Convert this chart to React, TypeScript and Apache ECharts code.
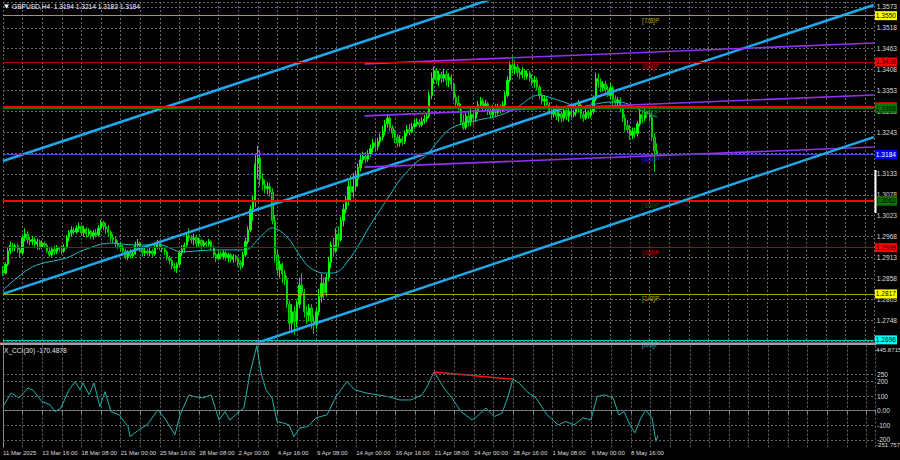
import React, { useEffect, useRef } from "react";
import * as echarts from "echarts";

// ---------- data ----------
const symbolName = "GBPUSD,H4";
const cciName = "X_CCI(30)";

// H4 candles [open, close, low, high], bar 0 = 11 Mar 2025 00:00
const candles: number[][] = [
  // 11 Mar
  [1.2878, 1.2872, 1.2865, 1.289], [1.2872, 1.2895, 1.2868, 1.29], [1.2895, 1.293, 1.289, 1.294], [1.293, 1.2945, 1.2922, 1.2955], [1.2945, 1.2938, 1.2928, 1.2952], [1.2938, 1.2944, 1.293, 1.295],
  // 12 Mar
  [1.2944, 1.2935, 1.2925, 1.295], [1.2935, 1.2925, 1.2914, 1.294], [1.2925, 1.2965, 1.292, 1.2972], [1.2965, 1.2975, 1.2955, 1.299], [1.2975, 1.296, 1.295, 1.2982], [1.296, 1.2955, 1.2945, 1.2968],
  // 13 Mar
  [1.2955, 1.296, 1.2945, 1.297], [1.296, 1.2948, 1.2938, 1.2966], [1.2948, 1.2955, 1.2935, 1.2962], [1.2955, 1.294, 1.2933, 1.296], [1.294, 1.295, 1.2935, 1.2958], [1.295, 1.2945, 1.2938, 1.2955],
  // 14 Mar
  [1.2945, 1.293, 1.2925, 1.295], [1.293, 1.292, 1.2914, 1.2938], [1.292, 1.2935, 1.2915, 1.2942], [1.2935, 1.2928, 1.292, 1.2945], [1.2928, 1.2938, 1.2922, 1.2946], [1.2938, 1.2935, 1.2928, 1.2942],
  // 17 Mar
  [1.2935, 1.293, 1.2922, 1.2945], [1.293, 1.294, 1.2925, 1.2948], [1.294, 1.2965, 1.2936, 1.2972], [1.2965, 1.2978, 1.2955, 1.2985], [1.2978, 1.2985, 1.2968, 1.2995], [1.2985, 1.298, 1.2972, 1.2992],
  // 18 Mar
  [1.298, 1.299, 1.2975, 1.2998], [1.299, 1.2995, 1.298, 1.3005], [1.2995, 1.2978, 1.297, 1.3], [1.2978, 1.2988, 1.2968, 1.2996], [1.2988, 1.2975, 1.2965, 1.2992], [1.2975, 1.2982, 1.297, 1.299],
  // 19 Mar
  [1.2982, 1.297, 1.2962, 1.2986], [1.297, 1.2978, 1.296, 1.2985], [1.2978, 1.2972, 1.2965, 1.2988], [1.2972, 1.299, 1.2968, 1.2998], [1.299, 1.3005, 1.2985, 1.3012], [1.3005, 1.2995, 1.2985, 1.301],
  // 20 Mar
  [1.2995, 1.2988, 1.2975, 1.3005], [1.2988, 1.298, 1.2968, 1.2998], [1.298, 1.2965, 1.2955, 1.2985], [1.2965, 1.296, 1.2951, 1.2975], [1.296, 1.295, 1.294, 1.2968], [1.295, 1.2945, 1.2935, 1.2958],
  // 21 Mar
  [1.2945, 1.2938, 1.293, 1.2955], [1.2938, 1.293, 1.2925, 1.2946], [1.293, 1.2915, 1.2908, 1.2936], [1.2915, 1.2925, 1.2906, 1.2932], [1.2925, 1.2918, 1.291, 1.2935], [1.2918, 1.2922, 1.2912, 1.293],
  // 24 Mar
  [1.2922, 1.2945, 1.292, 1.2955], [1.2945, 1.295, 1.2935, 1.2962], [1.295, 1.2935, 1.2928, 1.2955], [1.2935, 1.2925, 1.2915, 1.2942], [1.2925, 1.293, 1.2916, 1.2938], [1.293, 1.2925, 1.2918, 1.2936],
  // 25 Mar
  [1.2925, 1.293, 1.2916, 1.2938], [1.293, 1.2922, 1.2914, 1.2936], [1.2922, 1.294, 1.2918, 1.2948], [1.294, 1.295, 1.2935, 1.296], [1.295, 1.294, 1.2932, 1.2955], [1.294, 1.2935, 1.2926, 1.2948],
  // 26 Mar
  [1.2935, 1.2928, 1.292, 1.2942], [1.2928, 1.2912, 1.2905, 1.2932], [1.2912, 1.2905, 1.2895, 1.2918], [1.2905, 1.289, 1.2882, 1.291], [1.289, 1.2885, 1.2876, 1.2898], [1.2885, 1.2895, 1.2872, 1.29],
  // 27 Mar
  [1.2895, 1.2925, 1.289, 1.2932], [1.2925, 1.2935, 1.2916, 1.2945], [1.2935, 1.2945, 1.2925, 1.2952], [1.2945, 1.297, 1.294, 1.2978], [1.297, 1.2965, 1.2955, 1.2991], [1.2965, 1.296, 1.295, 1.2972],
  // 28 Mar
  [1.296, 1.2965, 1.2945, 1.2975], [1.2965, 1.295, 1.294, 1.2972], [1.295, 1.2958, 1.2942, 1.2965], [1.2958, 1.2945, 1.2935, 1.2962], [1.2945, 1.2952, 1.2938, 1.2958], [1.2952, 1.2948, 1.294, 1.2956],
  // 31 Mar
  [1.2948, 1.2955, 1.2942, 1.2962], [1.2955, 1.294, 1.2933, 1.2958], [1.294, 1.292, 1.2912, 1.2944], [1.292, 1.291, 1.2901, 1.2926], [1.291, 1.2922, 1.2905, 1.2928], [1.2922, 1.2915, 1.2908, 1.293],
  // 1 Apr
  [1.2915, 1.2925, 1.2908, 1.2932], [1.2925, 1.2912, 1.2904, 1.293], [1.2912, 1.292, 1.29, 1.2926], [1.292, 1.2908, 1.29, 1.2925], [1.2908, 1.2915, 1.2899, 1.2922], [1.2915, 1.291, 1.2902, 1.292],
  // 2 Apr
  [1.291, 1.29, 1.2888, 1.2915], [1.29, 1.2892, 1.288, 1.2906], [1.2892, 1.292, 1.2886, 1.2928], [1.292, 1.2955, 1.2915, 1.2965], [1.2955, 1.2985, 1.2948, 1.2995], [1.2985, 1.304, 1.298, 1.305],
  // 3 Apr
  [1.304, 1.306, 1.301, 1.3075], [1.306, 1.316, 1.3045, 1.3185], [1.316, 1.3175, 1.312, 1.3207], [1.3175, 1.312, 1.31, 1.3196], [1.312, 1.3105, 1.309, 1.3135], [1.3105, 1.3095, 1.3082, 1.3118],
  // 4 Apr
  [1.3095, 1.31, 1.308, 1.3112], [1.31, 1.3085, 1.3073, 1.311], [1.3085, 1.301, 1.3, 1.3095], [1.301, 1.292, 1.29, 1.3025], [1.292, 1.288, 1.287, 1.2935], [1.288, 1.2895, 1.286, 1.2905],
  // 7 Apr
  [1.2895, 1.287, 1.2846, 1.29], [1.287, 1.2855, 1.284, 1.288], [1.2855, 1.279, 1.278, 1.2865], [1.279, 1.274, 1.2722, 1.28], [1.274, 1.277, 1.2714, 1.279], [1.277, 1.2745, 1.271, 1.2785],
  // 8 Apr
  [1.2745, 1.279, 1.273, 1.28], [1.279, 1.284, 1.278, 1.286], [1.284, 1.282, 1.281, 1.2872], [1.282, 1.277, 1.2755, 1.283], [1.277, 1.276, 1.2738, 1.2785], [1.276, 1.278, 1.2745, 1.279],
  // 9 Apr
  [1.278, 1.2745, 1.2725, 1.279], [1.2745, 1.2735, 1.2712, 1.276], [1.2735, 1.277, 1.2725, 1.278], [1.277, 1.281, 1.276, 1.283], [1.281, 1.2845, 1.2795, 1.287], [1.2845, 1.282, 1.2805, 1.286],
  // 10 Apr
  [1.282, 1.286, 1.281, 1.287], [1.286, 1.29, 1.285, 1.2915], [1.29, 1.2945, 1.2885, 1.2955], [1.2945, 1.293, 1.2915, 1.2965], [1.293, 1.2975, 1.2925, 1.299], [1.2975, 1.296, 1.294, 1.2995],
  // 11 Apr
  [1.296, 1.301, 1.2955, 1.302], [1.301, 1.304, 1.2995, 1.3055], [1.304, 1.3065, 1.303, 1.3075], [1.3065, 1.31, 1.305, 1.3115], [1.31, 1.3085, 1.306, 1.313], [1.3085, 1.31, 1.307, 1.3136],
  // 14 Apr
  [1.31, 1.312, 1.309, 1.314], [1.312, 1.315, 1.31, 1.316], [1.315, 1.317, 1.314, 1.3185], [1.317, 1.318, 1.316, 1.3192], [1.318, 1.3172, 1.3162, 1.319], [1.3172, 1.3185, 1.3165, 1.3196],
  // 15 Apr
  [1.3185, 1.32, 1.3178, 1.321], [1.32, 1.3215, 1.319, 1.3225], [1.3215, 1.3205, 1.3192, 1.3222], [1.3205, 1.3218, 1.3195, 1.3228], [1.3218, 1.323, 1.321, 1.324], [1.323, 1.3245, 1.3222, 1.326],
  // 16 Apr
  [1.3245, 1.3265, 1.3235, 1.3275], [1.3265, 1.328, 1.3255, 1.329], [1.328, 1.3255, 1.3245, 1.3285], [1.3255, 1.324, 1.3228, 1.3262], [1.324, 1.323, 1.3215, 1.325], [1.323, 1.3215, 1.3204, 1.3238],
  // 17 Apr
  [1.3215, 1.3225, 1.3205, 1.3235], [1.3225, 1.3218, 1.3208, 1.3232], [1.3218, 1.324, 1.3212, 1.3248], [1.324, 1.325, 1.3232, 1.3262], [1.325, 1.3245, 1.3235, 1.3265], [1.3245, 1.3258, 1.324, 1.3268],
  // 18 Apr
  [1.3258, 1.3265, 1.3252, 1.3275], [1.3265, 1.327, 1.3258, 1.328], [1.327, 1.3262, 1.3256, 1.3278], [1.3262, 1.3272, 1.3257, 1.3282], [1.3272, 1.3278, 1.3265, 1.3288], [1.3278, 1.3285, 1.327, 1.3292],
  // 21 Apr
  [1.3285, 1.334, 1.328, 1.335], [1.334, 1.3385, 1.333, 1.34], [1.3385, 1.3405, 1.337, 1.3415], [1.3405, 1.338, 1.337, 1.3412], [1.338, 1.3395, 1.3365, 1.3405], [1.3395, 1.3385, 1.3372, 1.3402],
  // 22 Apr
  [1.3385, 1.3395, 1.3375, 1.341], [1.3395, 1.338, 1.3365, 1.3405], [1.338, 1.3388, 1.3362, 1.3398], [1.3388, 1.337, 1.3355, 1.3395], [1.337, 1.3335, 1.3325, 1.3375], [1.3335, 1.332, 1.3305, 1.3345],
  // 23 Apr
  [1.332, 1.331, 1.33, 1.334], [1.331, 1.327, 1.3262, 1.3318], [1.327, 1.3255, 1.3249, 1.329], [1.3255, 1.3285, 1.325, 1.3295], [1.3285, 1.327, 1.3258, 1.33], [1.327, 1.329, 1.326, 1.3305],
  // 24 Apr
  [1.329, 1.328, 1.3262, 1.33], [1.328, 1.33, 1.327, 1.331], [1.33, 1.3315, 1.329, 1.3325], [1.3315, 1.3325, 1.3305, 1.3336], [1.3325, 1.331, 1.3298, 1.3332], [1.331, 1.3318, 1.33, 1.3328],
  // 25 Apr
  [1.3318, 1.33, 1.3288, 1.3322], [1.33, 1.329, 1.3278, 1.331], [1.329, 1.3305, 1.328, 1.3315], [1.3305, 1.3295, 1.3282, 1.3318], [1.3295, 1.331, 1.3288, 1.3318], [1.331, 1.33, 1.3292, 1.3316],
  // 28 Apr
  [1.33, 1.3315, 1.3295, 1.3325], [1.3315, 1.334, 1.3305, 1.335], [1.334, 1.338, 1.3335, 1.339], [1.338, 1.342, 1.3375, 1.343], [1.342, 1.341, 1.3398, 1.3443], [1.341, 1.3415, 1.3395, 1.3432],
  // 29 Apr
  [1.3415, 1.34, 1.3388, 1.3422], [1.34, 1.3395, 1.3382, 1.3412], [1.3395, 1.3405, 1.3385, 1.3415], [1.3405, 1.339, 1.338, 1.341], [1.339, 1.3398, 1.3382, 1.3406], [1.3398, 1.3385, 1.3376, 1.3404],
  // 30 Apr
  [1.3385, 1.3375, 1.3365, 1.3395], [1.3375, 1.338, 1.336, 1.3392], [1.338, 1.3362, 1.3354, 1.3388], [1.3362, 1.334, 1.333, 1.3368], [1.334, 1.3325, 1.3315, 1.3346], [1.3325, 1.333, 1.331, 1.334],
  // 1 May
  [1.333, 1.3315, 1.3305, 1.3336], [1.3315, 1.33, 1.329, 1.3322], [1.33, 1.329, 1.3278, 1.331], [1.329, 1.3305, 1.3282, 1.3312], [1.3305, 1.3285, 1.3275, 1.3315], [1.3285, 1.3292, 1.327, 1.33],
  // 2 May
  [1.3292, 1.328, 1.3268, 1.3298], [1.328, 1.33, 1.3272, 1.3308], [1.33, 1.3285, 1.3275, 1.331], [1.3285, 1.3298, 1.327, 1.3305], [1.3298, 1.329, 1.328, 1.3306], [1.329, 1.3295, 1.3282, 1.3302],
  // 5 May
  [1.3295, 1.3305, 1.3285, 1.3318], [1.3305, 1.3315, 1.3295, 1.3328], [1.3315, 1.329, 1.3278, 1.332], [1.329, 1.328, 1.327, 1.3298], [1.328, 1.3295, 1.3275, 1.3305], [1.3295, 1.3288, 1.3278, 1.3302],
  // 6 May
  [1.3288, 1.3298, 1.328, 1.3306], [1.3298, 1.333, 1.3292, 1.334], [1.333, 1.3385, 1.3325, 1.34], [1.3385, 1.3375, 1.336, 1.3398], [1.3375, 1.336, 1.3348, 1.3385], [1.336, 1.337, 1.335, 1.3378],
  // 7 May
  [1.337, 1.3355, 1.334, 1.3378], [1.3355, 1.334, 1.3336, 1.3365], [1.334, 1.336, 1.333, 1.3372], [1.336, 1.333, 1.3315, 1.3365], [1.333, 1.332, 1.331, 1.334], [1.332, 1.3328, 1.3308, 1.3336],
  // 8 May
  [1.3328, 1.3305, 1.3295, 1.3335], [1.3305, 1.328, 1.327, 1.331], [1.328, 1.326, 1.3245, 1.329], [1.326, 1.325, 1.3241, 1.3275], [1.325, 1.3235, 1.3223, 1.3262], [1.3235, 1.3245, 1.3225, 1.3255],
  // 9 May
  [1.3245, 1.324, 1.3228, 1.3255], [1.324, 1.3265, 1.3232, 1.3272], [1.3265, 1.329, 1.3258, 1.3302], [1.329, 1.328, 1.3268, 1.33], [1.328, 1.3295, 1.3272, 1.3305], [1.3295, 1.329, 1.328, 1.33],
  // 12 May
  [1.329, 1.3282, 1.3272, 1.3302], [1.3282, 1.323, 1.322, 1.3295], [1.323, 1.3194, 1.3138, 1.324], [1.3194, 1.3184, 1.3183, 1.3214],
];

// moving average: [bar, price]
const maPoints: number[][] = [
  [0, 1.2827], [12, 1.2888], [26, 1.2912], [33, 1.2933], [44, 1.2951], [53, 1.2946], [64, 1.2946],
  [73, 1.2928], [87, 1.2933], [99, 1.2933], [105, 1.2967], [110, 1.2991], [116, 1.2967], [121, 1.292],
  [125, 1.2888], [131, 1.2872], [135, 1.2872], [142, 1.2914], [150, 1.2999], [158, 1.3078], [162, 1.3117],
  [169, 1.3165], [173, 1.3183], [178, 1.3223], [182, 1.3249], [186, 1.3262], [194, 1.3275], [203, 1.3288],
  [210, 1.3309], [216, 1.3336], [219, 1.3341], [224, 1.3333], [230, 1.332], [235, 1.3309], [240, 1.3315],
  [249, 1.3323], [254, 1.332], [260, 1.3302], [267, 1.3283],
];

// CCI(30): [bar, value]
const cciPoints: number[][] = [
  [0, 27], [3.3, 121], [6.5, 87], [10.2, 155], [12.2, 140], [15.9, 62], [19.2, 39], [21.2, -7], [23.6, 18],
  [26.9, 142], [29.4, 199], [31.4, 142], [32.6, 190], [35.1, 108], [37.1, 190], [39.5, 27], [41.6, 130],
  [44, -7], [47.3, -29], [51, -110], [51.8, -178], [55.4, -132], [58.7, -98], [63.2, 5], [66.4, -64],
  [70.1, -166], [72.2, -29], [75.8, 108], [77.9, 96], [81.5, 87], [84.8, 108], [88.1, -64], [90.5, -7],
  [92.5, -64], [96.2, -7], [98.2, 18], [100.7, 258], [103.5, 445.87], [105.2, 258], [107.2, 142],
  [109.7, 87], [111.7, -75], [114.1, -84], [116.6, -98], [118.6, -178], [121.1, -118], [124.3, -110],
  [127.6, -50], [132.1, -29], [135.8, 96], [140.2, 199], [143.5, 142], [148, 121], [152.5, 108],
  [157, 96], [161.8, 73], [166.3, 73], [170.8, 108], [172.9, 164], [175.7, 265], [179.8, 155], [183, 87],
  [186.7, -7], [191.2, -64], [193.2, -41], [196.9, 18], [200.2, -41], [203.4, -18], [205.9, 96],
  [207.9, 215], [210.4, 190], [213.6, 130], [217.3, 87], [221.8, -29], [226.3, -98], [229.5, -75],
  [232.8, -98], [236.4, -50], [239.7, -64], [242.2, 96], [245.4, 108], [248.7, 87], [251.1, -29],
  [253.2, -7], [255.6, -98], [257.6, -153], [260.1, -50], [262.1, 5], [264.6, -50], [266.2, -212],
  [267, -170.4878],
];
const cciDivergence: number[][] = [[175.7, 265], [207.9, 215]];
const cciLast = -170.4878;
const cciMin = -251.757;
const cciMax = 445.8715;
const cciLevels = [250, 200, 100, 0, -100, -200];
// the range labels sit just inside the window, as MetaTrader draws them
const cciTopLabelInset = 29;
const cciBottomLabelInset = 22;

const tickLabels = [
  "11 Mar 2025", "13 Mar 16:00", "18 Mar 08:00", "21 Mar 00:00", "25 Mar 16:00", "28 Mar 08:00",
  "2 Apr 00:00", "4 Apr 16:00", "9 Apr 08:00", "14 Apr 00:00", "16 Apr 16:00", "21 Apr 08:00",
  "24 Apr 00:00", "28 Apr 16:00", "1 May 08:00", "6 May 00:00", "8 May 16:00",
];
const barsPerLabel = 16;
const barsPerGrid = 8;
const barsVisible = 355.5;

const priceMin = 1.2693;
const priceMax = 1.3586;
const priceStep = 0.0055;

// Murrey math levels
const murreyNames = ["[7/8]P", "[6/8]P", "[5/8]P", "[4/8]P", "[3/8]P", "[2/8]P", "[1/8]P", "[0/8]P"];
const murreyValues = [1.355, 1.3428, 1.3306, 1.3184, 1.3062, 1.2939, 1.2817, 1.2696];
const murreyLineColors = ["#a6a400", "#b00000", "#008000", "#4848b0", "#008000", "#b00000", "#a6a400", "#00c8c8"];
const murreyTextColors = ["#b0a800", "#c80000", "#006400", "#1c1cff", "#006400", "#c80000", "#b0a800", "#00c8c8"];
const murreyBoxColors = ["#ffff00", "#ff0000", "#007800", "#0000ff", "#007800", "#ff0000", "#ffff00", "#00ffff"];
const murreyBoxText = ["#000000", "#000000", "#000000", "#ffffff", "#000000", "#000000", "#000000", "#000000"];
const murreyLabelBar = 264.4;

// hand-drawn support / resistance levels
const srLevels = [1.331, 1.3062];

// channel lines: [[bar, price], [bar, price]]
const blueLines: number[][][] = [
  [[0, 1.3167], [200, 1.3595]],
  [[0, 1.2817], [355.5, 1.3578]],
  [[100, 1.268], [355.5, 1.323]],
];
const purpleLines: number[][][] = [
  [[147.6, 1.3423], [355.5, 1.3478]],
  [[147.6, 1.3286], [355.5, 1.3341]],
  [[147.6, 1.3151], [355.5, 1.3204]],
];

// ---------- chart ----------
const FONT = "Liberation Sans";
const FS = 6.6;
const GRID = "#5f6872";
const TXT = "#dcdcdc";
const HIDDEN = { color: "rgba(0,0,0,0)", width: 0 };

function buildOption() {
  const last = candles[candles.length - 1];
  const candleData = candles.map((c, i) => [i, c[0], c[1], c[2], c[3]]);
  const dotted = { color: GRID, type: [2, 2] as number[], width: 1 };

  const boxes: any[] = [];
  const pushBox = (v: number, bg: string, fg: string) =>
    boxes.push({
      yAxis: v,
      lineStyle: HIDDEN,
      label: {
        show: true, position: "end", distance: 1, formatter: v.toFixed(4),
        backgroundColor: bg, color: fg, padding: [1, 1, 0, 1], fontSize: FS, fontFamily: FONT, lineHeight: 8,
      },
    });
  murreyValues.forEach((v, k) => {
    if (k === 2) pushBox(srLevels[0], "#ff0000", "#000000");
    if (k === 4) pushBox(srLevels[1], "#ff0000", "#000000");
    pushBox(v, murreyBoxColors[k], murreyBoxText[k]);
  });

  const chan = (pts: number[][], color: string, width: number) => ({
    type: "line", xAxisIndex: 0, yAxisIndex: 0, data: pts, showSymbol: false, silent: true,
    lineStyle: { color, width }, z: 4,
  });

  const rangeLabel = (at: number, text: string, size: number) => ({
    yAxis: at, lineStyle: HIDDEN,
    label: { show: true, position: "end", distance: 1, formatter: text, color: TXT, fontSize: size, fontFamily: FONT },
  });

  const series: any[] = [
    {
      type: "candlestick", xAxisIndex: 0, yAxisIndex: 0, data: candleData,
      encode: { x: 0, y: [1, 2, 3, 4] }, barWidth: 1.8, z: 2,
      itemStyle: { color: "#00ff00", color0: "#009000", borderColor: "#00ff00", borderColor0: "#00d000", borderWidth: 1 },
    },
    {
      type: "line", xAxisIndex: 0, yAxisIndex: 0, data: maPoints, smooth: 0.35, showSymbol: false, silent: true,
      lineStyle: { color: "#20b8c0", width: 1 }, z: 3,
      markLine: {
        silent: true, precision: 4, symbol: ["none", "none"], label: { show: false },
        data: murreyValues.map((v, k) => ({ yAxis: v, lineStyle: { color: murreyLineColors[k], width: 1, type: "solid" } })),
      },
    },
    ...blueLines.map((p) => chan(p, "#1fa8ec", 2.5)),
    ...purpleLines.map((p) => chan(p, "#9130ee", 1.6)),
    {
      type: "line", xAxisIndex: 1, yAxisIndex: 1, data: cciPoints, showSymbol: false, silent: true,
      lineStyle: { color: "#20b2aa", width: 1 }, z: 3,
      markLine: {
        silent: true, precision: 4, symbol: ["none", "none"],
        data: [
          ...cciLevels.map((v) => ({
            yAxis: v, lineStyle: { ...dotted },
            label: { show: true, position: "end", distance: 2, formatter: v === 0 ? "0.00" : String(v), color: TXT, fontSize: FS, fontFamily: FONT },
          })),
          rangeLabel(cciMax - cciTopLabelInset, cciMax.toFixed(4), 6.1),
          rangeLabel(cciMin + cciBottomLabelInset, cciMin.toFixed(3), 6.1),
        ],
      },
    },
    {
      type: "line", xAxisIndex: 1, yAxisIndex: 1, data: cciDivergence, showSymbol: false, silent: true,
      lineStyle: { color: "#ff1010", width: 1.6 }, z: 4,
    },
  ];
  // red S/R lines on the first purple series
  series[5].markLine = {
    silent: true, precision: 4, symbol: ["none", "none"], label: { show: false },
    data: srLevels.map((v) => ({ yAxis: v, lineStyle: { color: "#ff0000", width: 2.2, type: "solid" } })),
  };
  // price boxes & murrey names on the last blue series (top z)
  series[4].z = 6;
  series[4].markLine = { silent: true, precision: 4, symbol: ["none", "none"], data: boxes };
  series[4].markPoint = {
    silent: true, symbol: "circle", symbolSize: 1, itemStyle: { color: "rgba(0,0,0,0)" },
    data: murreyValues.map((v, k) => ({
      coord: [murreyLabelBar, v], name: murreyNames[k],
      label: { show: true, formatter: "{b}", position: "bottom", distance: 0.5, color: murreyTextColors[k], fontSize: FS, fontFamily: FONT },
    })),
  };

  return {
    backgroundColor: "#000000",
    animation: false,
    grid: [
      { left: 3, right: 25, top: 2, height: 339 },
      { left: 3, right: 25, top: 345.6, height: 101.7 },
    ],
    xAxis: [
      {
        type: "value", gridIndex: 0, min: 0, max: barsVisible, interval: barsPerGrid,
        axisLine: { show: false }, axisTick: { show: false }, axisLabel: { show: false },
        splitLine: { show: true, lineStyle: dotted },
      },
      {
        type: "value", gridIndex: 1, min: 0, max: barsVisible, interval: barsPerGrid,
        axisLine: { show: true, lineStyle: { color: "#8c8c8c" } },
        axisTick: { show: true, length: 3, lineStyle: { color: "#8c8c8c" } },
        axisLabel: {
          show: true, align: "left", margin: 3, fontSize: 6, fontFamily: FONT, color: TXT,
          formatter: (v: number) => {
            const k = Math.round(v);
            if (Math.abs(v - k) > 1e-6 || k % barsPerLabel !== 0) return "";
            return tickLabels[k / barsPerLabel] ?? "";
          },
        },
        splitLine: { show: true, lineStyle: dotted },
      },
    ],
    yAxis: [
      {
        type: "value", gridIndex: 0, position: "right", min: priceMin, max: priceMax, interval: priceStep,
        axisLine: { show: false }, axisTick: { show: false },
        axisLabel: {
          show: true, margin: 3, fontSize: FS, fontFamily: FONT, color: TXT,
          showMinLabel: false, showMaxLabel: false, formatter: (v: number) => v.toFixed(4),
        },
        splitLine: { show: true, lineStyle: dotted },
      },
      {
        type: "value", gridIndex: 1, position: "right", min: cciMin, max: cciMax,
        axisLine: { show: true, lineStyle: { color: "#8c8c8c" } }, axisTick: { show: false },
        axisLabel: { show: false }, splitLine: { show: false },
      },
    ],
    series,
    graphic: [
      { type: "polygon", z: 100, shape: { points: [[4, 4.5], [9, 4.5], [6.5, 8.5]] }, style: { fill: "#ffffff" } },
      {
        type: "text", z: 100, left: 12, top: 2.5,
        style: { text: `${symbolName}  ${last[0].toFixed(4)} ${last[3].toFixed(4)} ${last[2].toFixed(4)} ${last[1].toFixed(4)}`, fill: "#ffffff", font: `${FS}px "${FONT}"` },
      },
      { type: "rect", z: 100, shape: { x: 0, y: 342.5, width: 876, height: 2.5 }, style: { fill: "#a0a0a0" } },
      { type: "rect", z: 100, shape: { x: 874.5, y: 170, width: 2, height: 43 }, style: { fill: "#ffffff" } },
      {
        type: "text", z: 100, left: 4, top: 346.5,
        style: { text: `${cciName} ${cciLast.toFixed(4)}`, fill: "#e8e8e8", font: `${FS}px "${FONT}"` },
      },
    ],
  };
}

export default function App() {
  const ref = useRef<HTMLDivElement>(null);
  useEffect(() => {
    if (!ref.current) return;
    const chart = echarts.init(ref.current, null, { renderer: "svg" });
    chart.setOption(buildOption() as any);
    return () => chart.dispose();
  }, []);
  return (
    <div
      ref={ref}
      style={{ position: "fixed", left: 0, top: 0, width: 900, height: 460, background: "#000000" }}
    />
  );
}
